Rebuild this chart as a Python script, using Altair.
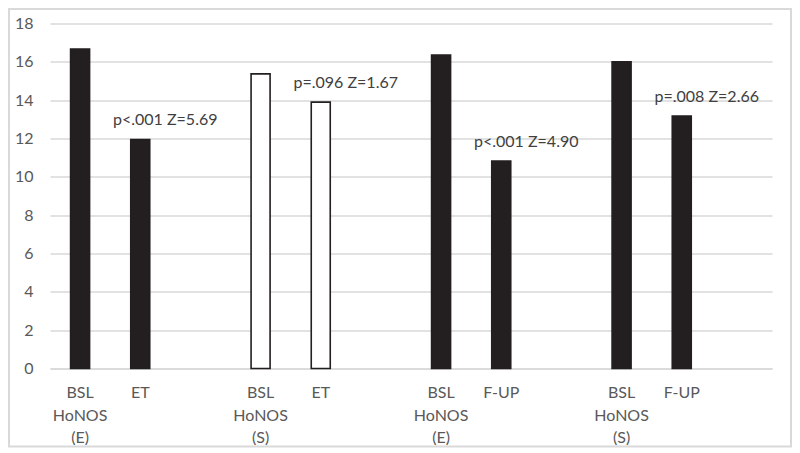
import altair as alt
import pandas as pd

# Data
categories = ["BSL HoNOS (E)", "ET", "BSL HoNOS (S)", "ET",
              "BSL HoNOS (E)", "F-UP", "BSL HoNOS (S)", "F-UP"]
groups = ["g1", "g1", "g2", "g2", "g3", "g3", "g4", "g4"]
values = [16.67, 11.95, 15.37, 13.9, 16.36, 10.83, 16.0, 13.17]
styles = ["filled", "filled", "hollow", "hollow", "filled", "filled", "filled", "filled"]
annotations = ["", "p<.001 Z=5.69", "", "p=.096 Z=1.67",
               "", "p<.001 Z=4.90", "", "p=.008 Z=2.66"]
y_ticks = [0, 2, 4, 6, 8, 10, 12, 14, 16, 18]

keys = [f"{c}#{g}" for c, g in zip(categories, groups)]
# band domain: each pair followed by an empty spacer slot
domain = []
for g in ["g1", "g2", "g3", "g4"]:
    domain += [k for k in keys if k.endswith("#" + g)]
    domain.append("#gap" + g)

df = pd.DataFrame({"key": keys, "value": values, "style": styles, "note": annotations})

FONT = "Lato"
GRID = "#d9d9d9"
LABEL = "#595959"

x_enc = alt.X("key:N", scale=alt.Scale(domain=domain, paddingInner=0, paddingOuter=0),
              sort=domain,
              axis=alt.Axis(title=None, labelAngle=0, ticks=False, domain=True,
                            domainColor=GRID, domainWidth=1.5,
                            labelExpr="split(split(datum.label, '#')[0], ' ')",
                            labelFont=FONT, labelFontSize=16, labelColor=LABEL,
                            labelLineHeight=22.5, labelPadding=16, labelBaseline="top"))
y_enc = alt.Y("value:Q", scale=alt.Scale(domain=[0, 18], nice=False),
              axis=alt.Axis(title=None, values=y_ticks, ticks=False, domain=False,
                            gridColor=GRID, gridWidth=1.3, labelOverlap=False,
                            labelFont=FONT, labelFontSize=16, labelColor=LABEL,
                            labelPadding=17))

bars = alt.Chart(df).mark_bar(size=19, stroke="#231f20", strokeWidth=1.6).encode(
    x=x_enc,
    y=y_enc,
    fill=alt.Fill("style:N", scale=alt.Scale(domain=["filled", "hollow"],
                                             range=["#231f20", "#ffffff"]), legend=None),
)

labels = alt.Chart(df).transform_filter("datum.note != ''").mark_text(
    font=FONT, fontSize=16, color="#404040", align="center", baseline="middle",
    dx=25, dy=-19
).encode(x=x_enc, y=y_enc, text="note:N")

border = alt.Chart(pd.DataFrame({"a": [0]})).mark_rect(
    fill=None, stroke=GRID, strokeWidth=2
).encode(x=alt.value(-41), x2=alt.value(741), y=alt.value(-14.5), y2=alt.value(423))

chart = alt.layer(border, bars, labels).properties(
    width=722, height=345,
    autosize=alt.AutoSizeParams(type="none"),
    padding={"left": 42, "top": 15.5, "right": 20, "bottom": 79.5},
    background="white",
).configure_view(stroke=None)

chart.save("out.html", embed_options={"renderer": "svg", "actions": False})
